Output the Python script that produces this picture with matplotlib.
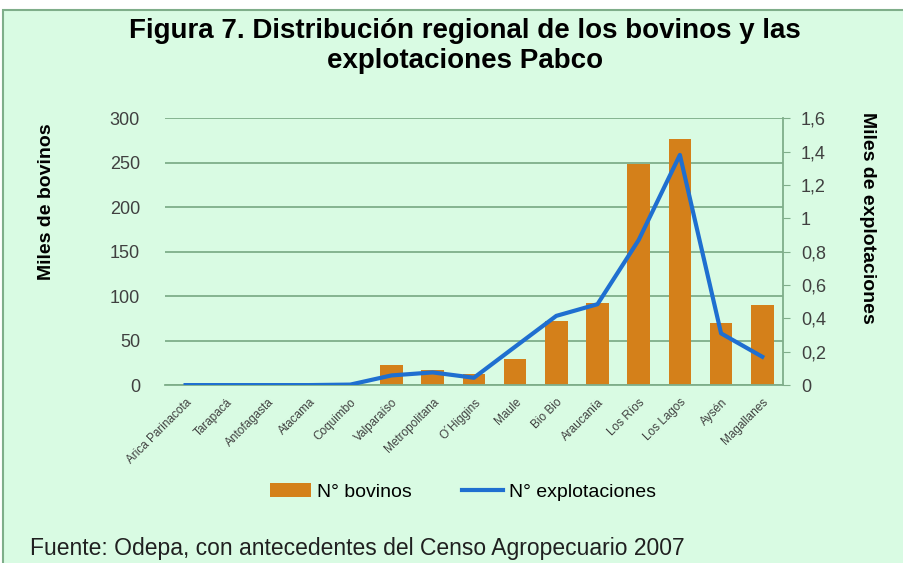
import matplotlib.pyplot as plt
from matplotlib.patches import Rectangle
import numpy as np

regiones = ["Arica Parinacota", "Tarapacá", "Antofagasta", "Atacama", "Coquimbo",
            "Valparaíso", "Metropolitana", "O´Higgins", "Maule", "Bio Bio",
            "Araucanía", "Los Ríos", "Los Lagos", "Aysén", "Magallanes"]
bovinos = [0, 0, 0, 0, 0.5, 23, 17, 13, 29, 72, 92, 249, 277, 70, 90]
explotaciones = [0.0, 0.0, 0.0, 0.0, 0.003, 0.058, 0.076, 0.044, 0.23, 0.415,
                 0.485, 0.87, 1.38, 0.31, 0.17]
ticks_izq = [0, 50, 100, 150, 200, 250, 300]
ticks_der = [0, 0.2, 0.4, 0.6, 0.8, 1, 1.2, 1.4, 1.6]

BG = "#d9fbe3"
GRID = "#7fae8a"
BAR = "#d4801a"
LINE = "#1f6fd0"
TXT = "#404040"

plt.rcParams["font.family"] = ["Liberation Sans", "DejaVu Sans"]

fig = plt.figure(figsize=(9.04, 5.63), dpi=100)
fig.patch.set_facecolor("white")
fig.patches.append(Rectangle((3 / 904, -0.01), 0.999, 1 - 10 / 563 + 0.01,
                             transform=fig.transFigure, facecolor=BG,
                             edgecolor=GRID, linewidth=1.5, zorder=-5))

ax = fig.add_axes([0.1825, 0.316, 0.6835, 0.474])
ax.set_facecolor("none")
x = np.arange(len(regiones))
ax.bar(x, bovinos, width=0.55, color=BAR, zorder=2, label="N° bovinos")
ax.set_xlim(-0.5, len(regiones) - 0.5)
ax.set_ylim(0, 300)
ax.set_yticks(ticks_izq)
ax.set_yticklabels([str(t) for t in ticks_izq], fontsize=13, color=TXT)
ax.grid(axis="y", color=GRID, linewidth=1.3, zorder=0)
ax.set_axisbelow(True)
for s in ["top", "right", "left"]:
    ax.spines[s].set_visible(False)
ax.spines["bottom"].set_color(GRID)
ax.spines["bottom"].set_linewidth(1.3)
ax.tick_params(axis="y", length=0, pad=18)
ax.tick_params(axis="x", length=0, pad=8)
ax.set_xticks(x)
ax.set_xticklabels(regiones, rotation=45, ha="right", rotation_mode="anchor",
                   fontsize=8.5, color=TXT)

ax2 = ax.twinx()
ax2.plot(x, explotaciones, color=LINE, linewidth=3, zorder=3,
         label="N° explotaciones")
ax2.set_ylim(0, 1.6)
ax2.set_yticks(ticks_der)
ax2.set_yticklabels([f"{t:g}".replace(".", ",") for t in ticks_der],
                    fontsize=13, color=TXT)
for s in ["top", "left", "bottom"]:
    ax2.spines[s].set_visible(False)
ax2.spines["right"].set_color(GRID)
ax2.spines["right"].set_linewidth(1.3)
ax2.tick_params(axis="y", direction="out", length=5, color=GRID, pad=8)

fig.text(47 / 904, 1 - 202 / 563, "Miles de bovinos", rotation=90,
         ha="center", va="center", fontsize=14, fontweight="bold")
fig.text(868 / 904, 1 - 218 / 563, "Miles de explotaciones", rotation=270,
         ha="center", va="center", fontsize=14, fontweight="bold")

fig.text(465 / 904, 1 - 46 / 563,
         "Figura 7. Distribución regional de los bovinos y las\nexplotaciones Pabco",
         ha="center", va="center", fontsize=20, fontweight="bold",
         linespacing=1.15)

h1, l1 = ax.get_legend_handles_labels()
h2, l2 = ax2.get_legend_handles_labels()
fig.legend(h1 + h2, l1 + l2, loc="center", bbox_to_anchor=(463 / 904, 1 - 492 / 563),
           ncol=2, frameon=False, fontsize=14, handlelength=2.1,
           columnspacing=2.6, handletextpad=0.3)

fig.text(30 / 904, 1 - 548 / 563,
         "Fuente: Odepa, con antecedentes del Censo Agropecuario 2007",
         ha="left", va="center", fontsize=16.5, color="#202020")

fig.savefig("out.png", dpi=100)
